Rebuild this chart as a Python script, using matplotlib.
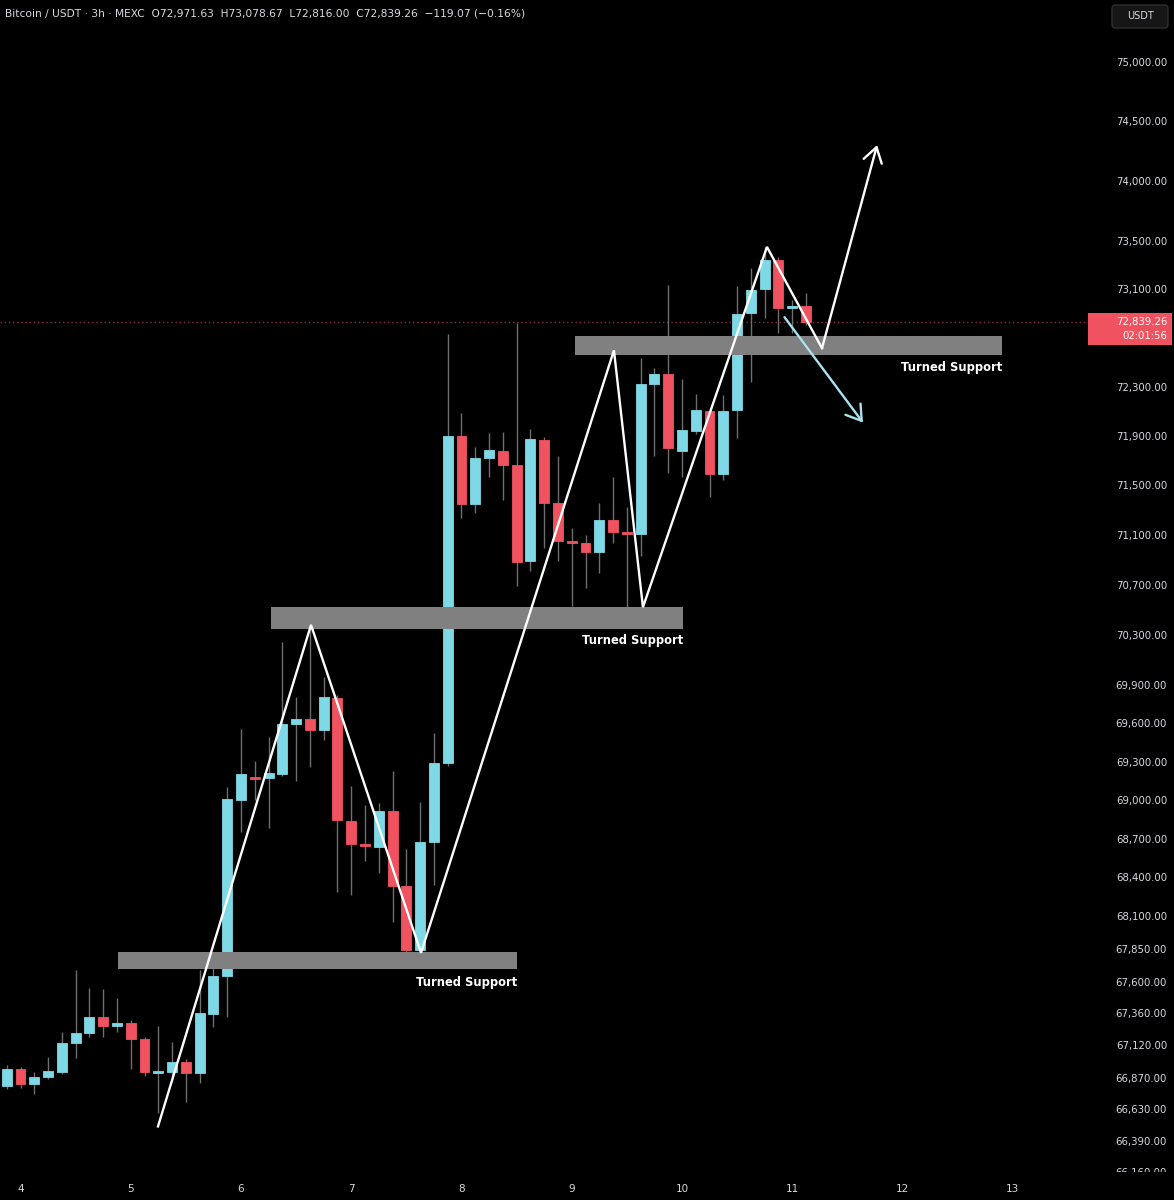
import numpy as np
import matplotlib
matplotlib.use("Agg")
import matplotlib.pyplot as plt
from matplotlib.patches import Rectangle, FancyBboxPatch
from matplotlib.ticker import NullLocator
import matplotlib.transforms as mtransforms

# BTC/USDT 3h candles, first one is day 3 21:00
start_day = 3.875
opens = [66817, 66946, 66832, 66885, 66923, 67143, 67213, 67337, 67267, 67290,
         67167, 66915, 66923, 66999, 66915, 67360, 67647, 69008, 69191, 69183,
         69214, 69600, 69640, 69560, 69805, 68842, 68670, 68646, 68921, 68338,
         67850, 68685, 69300, 71908, 71352, 71724, 71780, 71668, 70900, 71876,
         71360, 71060, 71044, 70972, 71230, 71132, 71116, 72333, 72407, 71780,
         71949, 72112, 71596, 72120, 72908, 73108, 73350, 72955, 72971.63]
highs = [66976, 66960, 66923, 67037, 67220, 67694, 67555, 67547, 67480, 67313,
         67182, 67267, 67151, 67022, 67694, 67710, 69108, 69565, 69316, 69505,
         70252, 69813, 70372, 69972, 69829, 69116, 68969, 68984, 69238, 68631,
         68992, 69529, 72737, 72096, 71820, 71933, 71941, 72829, 71965, 71900,
         71740, 71165, 71108, 71360, 71572, 71327, 72540, 72456, 73142, 72374,
         72251, 72137, 72243, 73133, 73283, 73458, 73375, 73017, 73078.67]
lows = [66795, 66802, 66757, 66870, 66908, 67029, 67182, 67182, 67220, 66946,
        66893, 66608, 66855, 66690, 66840, 67260, 67337, 68763, 69008, 68787,
        69198, 69160, 69270, 69474, 68292, 68269, 68538, 68438, 68061, 67835,
        67827, 68346, 69277, 71246, 71279, 71572, 71386, 70700, 70820, 71004,
        70900, 70535, 70684, 70804, 71044, 70527, 70940, 71740, 71604, 71572,
        71925, 71410, 71548, 71893, 72342, 72867, 72743, 72743, 72816.00]
closes = [66946, 66832, 66885, 66930, 67143, 67213, 67337, 67267, 67290, 67167,
          66923, 66930, 66999, 66915, 67368, 67647, 69016, 69214, 69175, 69222,
          69600, 69640, 69560, 69813, 68850, 68670, 68654, 68921, 68338, 67850,
          68685, 69300, 71908, 71352, 71724, 71788, 71668, 70892, 71884, 71360,
          71060, 71044, 70972, 71230, 71132, 71116, 72333, 72407, 71812, 71957,
          72120, 71596, 72112, 72900, 73100, 73350, 72950, 72971, 72839.26]

last_price = 72839.26
day_labels = ['4', '5', '6', '7', '8', '9', '10', '11', '12', '13']
day_ticks = [4, 5, 6, 7, 8, 9, 10, 11, 12, 13]
price_ticks = [75000, 74500, 74000, 73500, 73100, 72300, 71900, 71500, 71100,
               70700, 70300, 69900, 69600, 69300, 69000, 68700, 68400, 68100,
               67850, 67600, 67360, 67120, 66870, 66630, 66390, 66160]

# drawn annotations (day, price)
zigzag_x = [5.247, 6.635, 7.633, 9.383, 9.646, 10.771, 11.270]
zigzag_y = [66510, 70387, 67827, 72605, 70528, 73458, 72622]
up_arrow = [(11.270, 72622), (11.770, 74308)]
down_arrow = [(10.930, 72877), (11.642, 72014)]
zones = [(4.884, 8.503, 67702, 67835, 67600),
         (6.272, 10.009, 70355, 70528, 70260),
         (9.029, 12.903, 72564, 72721, 72465)]

UP = '#7fd8e6'
DOWN = '#f0525f'
TXT = '#d8dae0'

W, H = 1174, 1200
fig = plt.figure(figsize=(W / 100, H / 100), dpi=100, facecolor='black')
ax = fig.add_axes([0, 23 / H, 1088 / W, 1177 / H])
ax.set_facecolor('black')
ax.set_yscale('log')
ax.set_ylim(66131, 75536)
ax.set_xlim(3.814, 13.683)
for s in ax.spines.values():
    s.set_visible(False)
ax.yaxis.set_major_locator(NullLocator())
ax.yaxis.set_minor_locator(NullLocator())
ax.set_xticks(day_ticks)
ax.set_xticklabels(day_labels)
ax.tick_params(axis='x', length=0, pad=5, labelsize=7.5, labelcolor=TXT)

o = np.array(opens)
c = np.array(closes)
x = start_day + np.arange(len(o)) * 3 / 24
cols = [UP if cc >= oo else DOWN for oo, cc in zip(o, c)]
ax.vlines(x, lows, highs, color='#6e6e6e', lw=1, zorder=2)
ax.bar(x, np.abs(c - o), bottom=np.minimum(o, c), width=0.09, color=cols,
       edgecolor=cols, linewidth=0.6, zorder=3)

ax.axhline(last_price, color='#8c2f39', ls=(0, (1, 2)), lw=1, zorder=1)

for x0, x1, y0, y1, ty in zones:
    ax.add_patch(Rectangle((x0, y0), x1 - x0, y1 - y0, facecolor='#808080',
                           edgecolor='none', zorder=4))
    ax.text(x1, ty, 'Turned Support', color='white', fontsize=8.3,
            fontweight='bold', ha='right', va='center', zorder=6)

ax.plot(zigzag_x, zigzag_y, color='white', lw=1.7, zorder=5,
        solid_joinstyle='miter')
ax.annotate('', xy=up_arrow[1], xytext=up_arrow[0],
            arrowprops=dict(arrowstyle='->,head_length=0.7,head_width=0.45',
                            color='white', lw=1.7, shrinkA=0, shrinkB=0,
                            mutation_scale=15), zorder=5)
ax.annotate('', xy=down_arrow[1], xytext=down_arrow[0],
            arrowprops=dict(arrowstyle='->,head_length=0.7,head_width=0.45',
                            color='#a9e2ee', lw=1.7, shrinkA=0, shrinkB=0,
                            mutation_scale=15), zorder=5)

# price scale on the right
ax2 = fig.add_axes([1088 / W, 23 / H, 86 / W, 1177 / H], sharey=ax)
ax2.set_facecolor('black')
ax2.axis('off')
tr = mtransforms.blended_transform_factory(ax2.transAxes, ax2.transData)
clip = mtransforms.TransformedBbox(mtransforms.Bbox([[0, 5 / 1177], [1, 1]]),
                                   ax2.transAxes)
for p in price_ticks:
    t = ax2.text(0.92, p, f'{p:,.2f}', transform=tr, color=TXT, fontsize=7.3,
                 ha='right', va='center')
    t.set_clip_path(None)
    t.set_clip_box(clip)
    t.set_clip_on(True)
ax2.add_patch(Rectangle((0.0, 72647), 0.977, 72910 - 72647, transform=tr,
                        facecolor=DOWN, edgecolor='none'))
ax2.text(0.92, last_price, f'{last_price:,.2f}', transform=tr, color='white',
         fontsize=7.3, ha='right', va='center')
ax2.annotate('02:01:56', xy=(0.92, last_price), xycoords=tr, xytext=(0, -10),
             textcoords='offset points', color='white', fontsize=7.3,
             ha='right', va='center')

fig.add_artist(FancyBboxPatch((1112 / W, 1 - 28 / H), 56 / W, 23 / H,
                              boxstyle='round,pad=0,rounding_size=0.003',
                              transform=fig.transFigure, facecolor='#161616',
                              edgecolor='#2e2e2e', lw=1))
fig.text(1140 / W, 1 - 16 / H, 'USDT', color=TXT, fontsize=7, ha='center',
         va='center')
fig.text(5 / W, 1 - 14 / H,
         'Bitcoin / USDT · 3h · MEXC  O72,971.63  H73,078.67  L72,816.00  '
         'C72,839.26  −119.07 (−0.16%)',
         color=TXT, fontsize=7.7, va='center')

fig.savefig('out.png', dpi=100, facecolor='black')
